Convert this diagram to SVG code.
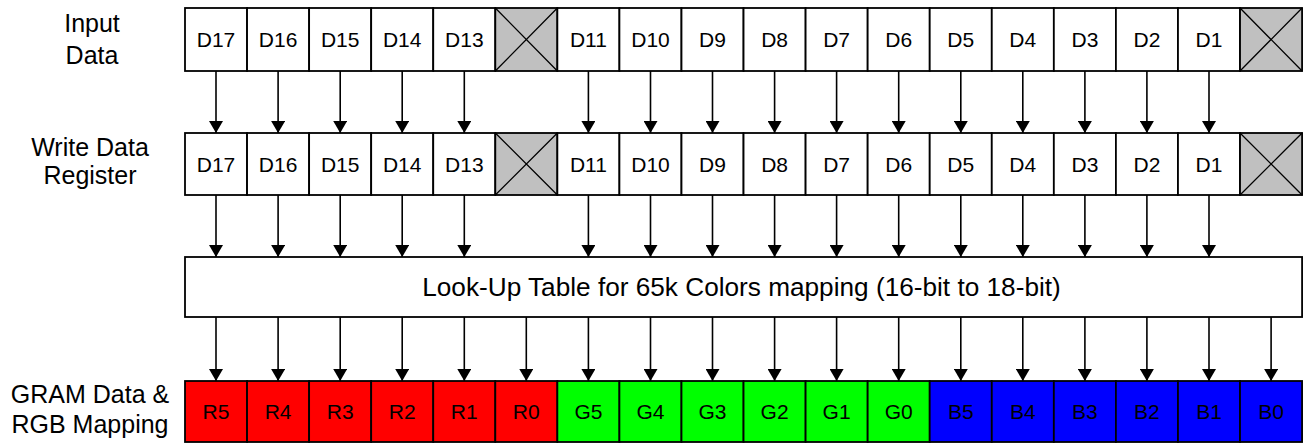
<svg xmlns="http://www.w3.org/2000/svg" width="1307" height="443" viewBox="0 0 1307 443">
<style>
.c{stroke:#000;stroke-width:1.8;fill:#fff}
.x{stroke:#000;stroke-width:1.8;fill:#c0c0c0}
.xl{stroke:#000;stroke-width:1.3;fill:none}
.r{stroke:#000;stroke-width:1.8;fill:#ff0000}
.g{stroke:#000;stroke-width:1.8;fill:#00ff00}
.b{stroke:#000;stroke-width:1.8;fill:#0000ff}
text{font-family:"Liberation Sans",Arial,Helvetica,sans-serif;fill:#000;text-anchor:middle}
.t{font-size:21px}
.lab{font-size:25px}
.lut{font-size:26.2px}
.a{stroke:#000;stroke-width:1.6;fill:none;marker-end:url(#ah)}
</style>
<defs>
<marker id="ah" markerUnits="userSpaceOnUse" markerWidth="12" markerHeight="14" viewBox="0 0 12 14" refX="12" refY="7" orient="auto">
<path d="M0,0 L12,7 L0,14 Z" fill="#000"/>
</marker>
</defs>
<g id="labels">
<g id="label-input"><text class="lab" x="92" y="32">Input</text><text class="lab" x="92" y="64">Data</text></g>
<g id="label-wdr"><text class="lab" x="90" y="156">Write Data</text><text class="lab" x="90" y="184">Register</text></g>
<g id="label-gram"><text class="lab" x="90" y="403">GRAM Data &amp;</text><text class="lab" x="90" y="433">RGB Mapping</text></g>
</g>
<g id="row-input">
<g id="in-D17"><rect class="c" x="185" y="8" width="62.06" height="63"/><text class="t" x="216" y="46.5">D17</text></g>
<g id="in-D16"><rect class="c" x="247.06" y="8" width="62.06" height="63"/><text class="t" x="278.1" y="46.5">D16</text></g>
<g id="in-D15"><rect class="c" x="309.12" y="8" width="62.06" height="63"/><text class="t" x="340.2" y="46.5">D15</text></g>
<g id="in-D14"><rect class="c" x="371.18" y="8" width="62.06" height="63"/><text class="t" x="402.2" y="46.5">D14</text></g>
<g id="in-D13"><rect class="c" x="433.24" y="8" width="62.06" height="63"/><text class="t" x="464.3" y="46.5">D13</text></g>
<g id="in-X1"><rect class="x" x="495.3" y="8" width="62.06" height="63"/><path class="xl" d="M495.3,8 L557.36,71 M557.36,8 L495.3,71"/></g>
<g id="in-D11"><rect class="c" x="557.36" y="8" width="62.06" height="63"/><text class="t" x="588.4" y="46.5">D11</text></g>
<g id="in-D10"><rect class="c" x="619.42" y="8" width="62.06" height="63"/><text class="t" x="650.5" y="46.5">D10</text></g>
<g id="in-D9"><rect class="c" x="681.48" y="8" width="62.06" height="63"/><text class="t" x="712.5" y="46.5">D9</text></g>
<g id="in-D8"><rect class="c" x="743.54" y="8" width="62.06" height="63"/><text class="t" x="774.6" y="46.5">D8</text></g>
<g id="in-D7"><rect class="c" x="805.6" y="8" width="62.06" height="63"/><text class="t" x="836.6" y="46.5">D7</text></g>
<g id="in-D6"><rect class="c" x="867.66" y="8" width="62.06" height="63"/><text class="t" x="898.7" y="46.5">D6</text></g>
<g id="in-D5"><rect class="c" x="929.72" y="8" width="62.06" height="63"/><text class="t" x="960.8" y="46.5">D5</text></g>
<g id="in-D4"><rect class="c" x="991.78" y="8" width="62.06" height="63"/><text class="t" x="1022.8" y="46.5">D4</text></g>
<g id="in-D3"><rect class="c" x="1053.84" y="8" width="62.06" height="63"/><text class="t" x="1084.9" y="46.5">D3</text></g>
<g id="in-D2"><rect class="c" x="1115.9" y="8" width="62.06" height="63"/><text class="t" x="1146.9" y="46.5">D2</text></g>
<g id="in-D1"><rect class="c" x="1177.96" y="8" width="62.06" height="63"/><text class="t" x="1209" y="46.5">D1</text></g>
<g id="in-X0"><rect class="x" x="1240.02" y="8" width="62.06" height="63"/><path class="xl" d="M1240.02,8 L1302.08,71 M1302.08,8 L1240.02,71"/></g>
</g>
<g id="row-wdr">
<g id="wd-D17"><rect class="c" x="185" y="133" width="62.06" height="62"/><text class="t" x="216" y="171.5">D17</text></g>
<g id="wd-D16"><rect class="c" x="247.06" y="133" width="62.06" height="62"/><text class="t" x="278.1" y="171.5">D16</text></g>
<g id="wd-D15"><rect class="c" x="309.12" y="133" width="62.06" height="62"/><text class="t" x="340.2" y="171.5">D15</text></g>
<g id="wd-D14"><rect class="c" x="371.18" y="133" width="62.06" height="62"/><text class="t" x="402.2" y="171.5">D14</text></g>
<g id="wd-D13"><rect class="c" x="433.24" y="133" width="62.06" height="62"/><text class="t" x="464.3" y="171.5">D13</text></g>
<g id="wd-X1"><rect class="x" x="495.3" y="133" width="62.06" height="62"/><path class="xl" d="M495.3,133 L557.36,195 M557.36,133 L495.3,195"/></g>
<g id="wd-D11"><rect class="c" x="557.36" y="133" width="62.06" height="62"/><text class="t" x="588.4" y="171.5">D11</text></g>
<g id="wd-D10"><rect class="c" x="619.42" y="133" width="62.06" height="62"/><text class="t" x="650.5" y="171.5">D10</text></g>
<g id="wd-D9"><rect class="c" x="681.48" y="133" width="62.06" height="62"/><text class="t" x="712.5" y="171.5">D9</text></g>
<g id="wd-D8"><rect class="c" x="743.54" y="133" width="62.06" height="62"/><text class="t" x="774.6" y="171.5">D8</text></g>
<g id="wd-D7"><rect class="c" x="805.6" y="133" width="62.06" height="62"/><text class="t" x="836.6" y="171.5">D7</text></g>
<g id="wd-D6"><rect class="c" x="867.66" y="133" width="62.06" height="62"/><text class="t" x="898.7" y="171.5">D6</text></g>
<g id="wd-D5"><rect class="c" x="929.72" y="133" width="62.06" height="62"/><text class="t" x="960.8" y="171.5">D5</text></g>
<g id="wd-D4"><rect class="c" x="991.78" y="133" width="62.06" height="62"/><text class="t" x="1022.8" y="171.5">D4</text></g>
<g id="wd-D3"><rect class="c" x="1053.84" y="133" width="62.06" height="62"/><text class="t" x="1084.9" y="171.5">D3</text></g>
<g id="wd-D2"><rect class="c" x="1115.9" y="133" width="62.06" height="62"/><text class="t" x="1146.9" y="171.5">D2</text></g>
<g id="wd-D1"><rect class="c" x="1177.96" y="133" width="62.06" height="62"/><text class="t" x="1209" y="171.5">D1</text></g>
<g id="wd-X0"><rect class="x" x="1240.02" y="133" width="62.06" height="62"/><path class="xl" d="M1240.02,133 L1302.08,195 M1302.08,133 L1240.02,195"/></g>
</g>
<g id="lut"><rect class="c" x="185" y="257" width="1117.08" height="60"/><text class="lut" x="741.5" y="296">Look-Up Table for 65k Colors mapping (16-bit to 18-bit)</text></g>
<g id="row-gram">
<g id="gr-R5"><rect class="r" x="185" y="381" width="62.06" height="61"/><text class="t" x="216" y="419">R5</text></g>
<g id="gr-R4"><rect class="r" x="247.06" y="381" width="62.06" height="61"/><text class="t" x="278.1" y="419">R4</text></g>
<g id="gr-R3"><rect class="r" x="309.12" y="381" width="62.06" height="61"/><text class="t" x="340.2" y="419">R3</text></g>
<g id="gr-R2"><rect class="r" x="371.18" y="381" width="62.06" height="61"/><text class="t" x="402.2" y="419">R2</text></g>
<g id="gr-R1"><rect class="r" x="433.24" y="381" width="62.06" height="61"/><text class="t" x="464.3" y="419">R1</text></g>
<g id="gr-R0"><rect class="r" x="495.3" y="381" width="62.06" height="61"/><text class="t" x="526.3" y="419">R0</text></g>
<g id="gr-G5"><rect class="g" x="557.36" y="381" width="62.06" height="61"/><text class="t" x="588.4" y="419">G5</text></g>
<g id="gr-G4"><rect class="g" x="619.42" y="381" width="62.06" height="61"/><text class="t" x="650.5" y="419">G4</text></g>
<g id="gr-G3"><rect class="g" x="681.48" y="381" width="62.06" height="61"/><text class="t" x="712.5" y="419">G3</text></g>
<g id="gr-G2"><rect class="g" x="743.54" y="381" width="62.06" height="61"/><text class="t" x="774.6" y="419">G2</text></g>
<g id="gr-G1"><rect class="g" x="805.6" y="381" width="62.06" height="61"/><text class="t" x="836.6" y="419">G1</text></g>
<g id="gr-G0"><rect class="g" x="867.66" y="381" width="62.06" height="61"/><text class="t" x="898.7" y="419">G0</text></g>
<g id="gr-B5"><rect class="b" x="929.72" y="381" width="62.06" height="61"/><text class="t" x="960.8" y="419">B5</text></g>
<g id="gr-B4"><rect class="b" x="991.78" y="381" width="62.06" height="61"/><text class="t" x="1022.8" y="419">B4</text></g>
<g id="gr-B3"><rect class="b" x="1053.84" y="381" width="62.06" height="61"/><text class="t" x="1084.9" y="419">B3</text></g>
<g id="gr-B2"><rect class="b" x="1115.9" y="381" width="62.06" height="61"/><text class="t" x="1146.9" y="419">B2</text></g>
<g id="gr-B1"><rect class="b" x="1177.96" y="381" width="62.06" height="61"/><text class="t" x="1209" y="419">B1</text></g>
<g id="gr-B0"><rect class="b" x="1240.02" y="381" width="62.06" height="61"/><text class="t" x="1271.1" y="419">B0</text></g>
</g>
<g id="connectors">
<path class="a" d="M216,71 V133"/><path class="a" d="M278.1,71 V133"/><path class="a" d="M340.2,71 V133"/><path class="a" d="M402.2,71 V133"/><path class="a" d="M464.3,71 V133"/>
<path class="a" d="M588.4,71 V133"/><path class="a" d="M650.5,71 V133"/><path class="a" d="M712.5,71 V133"/><path class="a" d="M774.6,71 V133"/><path class="a" d="M836.6,71 V133"/><path class="a" d="M898.7,71 V133"/><path class="a" d="M960.8,71 V133"/><path class="a" d="M1022.8,71 V133"/><path class="a" d="M1084.9,71 V133"/><path class="a" d="M1146.9,71 V133"/><path class="a" d="M1209,71 V133"/>
<path class="a" d="M216,195 V257"/><path class="a" d="M278.1,195 V257"/><path class="a" d="M340.2,195 V257"/><path class="a" d="M402.2,195 V257"/><path class="a" d="M464.3,195 V257"/>
<path class="a" d="M588.4,195 V257"/><path class="a" d="M650.5,195 V257"/><path class="a" d="M712.5,195 V257"/><path class="a" d="M774.6,195 V257"/><path class="a" d="M836.6,195 V257"/><path class="a" d="M898.7,195 V257"/><path class="a" d="M960.8,195 V257"/><path class="a" d="M1022.8,195 V257"/><path class="a" d="M1084.9,195 V257"/><path class="a" d="M1146.9,195 V257"/><path class="a" d="M1209,195 V257"/>
<path class="a" d="M216,317 V381"/><path class="a" d="M278.1,317 V381"/><path class="a" d="M340.2,317 V381"/><path class="a" d="M402.2,317 V381"/><path class="a" d="M464.3,317 V381"/><path class="a" d="M526.3,317 V381"/>
<path class="a" d="M588.4,317 V381"/><path class="a" d="M650.5,317 V381"/><path class="a" d="M712.5,317 V381"/><path class="a" d="M774.6,317 V381"/><path class="a" d="M836.6,317 V381"/><path class="a" d="M898.7,317 V381"/><path class="a" d="M960.8,317 V381"/><path class="a" d="M1022.8,317 V381"/><path class="a" d="M1084.9,317 V381"/><path class="a" d="M1146.9,317 V381"/><path class="a" d="M1209,317 V381"/><path class="a" d="M1271.1,317 V381"/>
</g>
</svg>
